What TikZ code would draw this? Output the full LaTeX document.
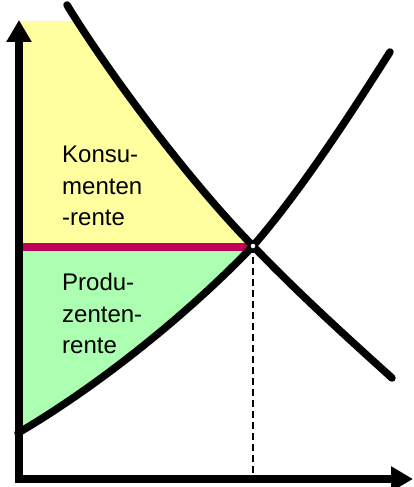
\documentclass[tikz,border=0pt]{standalone}
\usepackage{fontspec}
\setmainfont{Liberation Sans}
\usetikzlibrary{arrows.meta}
\definecolor{csyellow}{RGB}{255,255,160}
\definecolor{psgreen}{RGB}{172,255,176}
\definecolor{pricered}{RGB}{190,0,90}
\tikzset{
  curve/.style={line width=7.5pt, line cap=round},
  axis/.style={line width=8pt, -{Triangle[length=22pt,width=24pt]}},
  lbl/.style={anchor=base west, inner sep=0pt, font=\fontsize{24}{31}\selectfont}
}
\begin{document}
\begin{tikzpicture}[x=1pt,y=-1pt]
\useasboundingbox (0,0) rectangle (413,487);
% coordinates
\coordinate (E) at (253,246);
\coordinate (D0) at (67,5);
\coordinate (D1) at (392,378);
\coordinate (S0) at (18,433);
\coordinate (S1) at (390,52);
\coordinate (P0) at (18,247);
\coordinate (P1) at (253,247);
\coordinate (Ytop) at (19,20);
\coordinate (Xend) at (413,479);
\coordinate (Ebase) at (253,478);
% consumer surplus
\begin{scope}
\clip (18,22) rectangle (260,247);
\fill[csyellow] (18,0) -- (D0) .. controls (110,75) and (190,182) .. (E) -- (P1) -- (P0) -- cycle;
\end{scope}
% producer surplus
\fill[psgreen] (P0) -- (P1) -- (E) .. controls (190,312) and (100,385) .. (S0) -- cycle;
% dashed line
\draw[line width=1.5pt, dash pattern=on 7pt off 4pt] (E) -- (Ebase);
% price line
\draw[pricered, line width=8.5pt] (P0) -- (P1);
% demand
\draw[curve] (D0) .. controls (110,75) and (190,182) .. (E) .. controls (300,295) and (350,340) .. (D1);
% supply
\draw[curve] (S0) .. controls (100,385) and (190,312) .. (E) .. controls (300,192) and (350,115) .. (S1);
% axes
\draw[axis] (19,482) -- (Ytop);
\draw[axis] (15,479) -- (Xend);
% equilibrium point
\node[circle, draw=black, fill=white, line width=1pt, minimum size=6pt, inner sep=0pt] (Edot) at (E) {};
% labels
\node[lbl] (k1) at (62,162) {Konsu-};
\node[lbl] (k2) at (62,194) {menten};
\node[lbl] (k3) at (62,225) {-rente};
\node[lbl] (p1) at (62,290) {Produ-};
\node[lbl] (p2) at (62,322) {zenten-};
\node[lbl] (p3) at (62,353) {rente};
\end{tikzpicture}
\end{document}
